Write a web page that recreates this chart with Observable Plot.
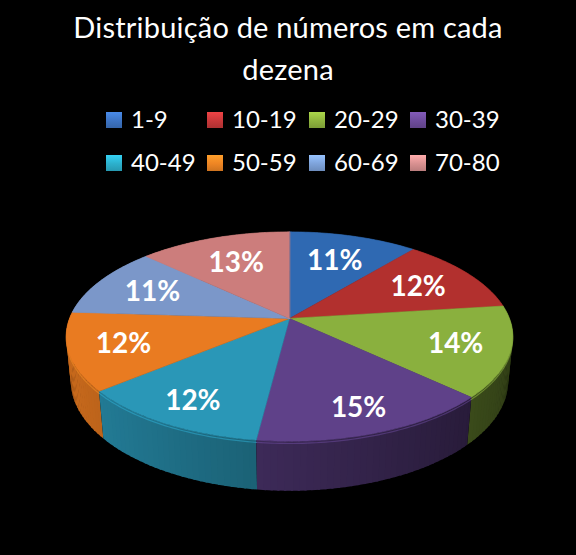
<!DOCTYPE html>
<html>
<head>
<meta charset="utf-8">
<script src="https://cdn.jsdelivr.net/npm/d3@7"></script>
<script src="https://cdn.jsdelivr.net/npm/@observablehq/plot@0.6"></script>
<style>
  html, body { margin: 0; padding: 0; background: #000; }
  #wrap { position: relative; width: 576px; height: 555px; background: #000; overflow: hidden; font-family: Lato, "Open Sans", sans-serif; }
  #title { position: absolute; left: 38px; width: 500px; top: 6px; text-align: center; color: #fff; font-size: 29px; line-height: 42px; letter-spacing: 0.2px; }
  .item { position: absolute; top: 0; color: #fff; font-size: 24px; line-height: 30px; white-space: nowrap; }
  .sw { position: absolute; width: 16px; height: 16px; top: 8px; left: 0; }
  .lab { position: absolute; left: 25px; top: 0; }
  #chart { position: absolute; left: 0; top: 185px; }
</style>
</head>
<body>
<div id="wrap">
  <div id="title">Distribuição de números em cada dezena</div>
  <div id="legend"></div>
  <div id="chart"></div>
</div>
<script>
// ---- data ----
const categories = ["1-9", "10-19", "20-29", "30-39", "40-49", "50-59", "60-69", "70-80"];
const percents = [11, 12, 14, 15, 12, 12, 11, 13];
const sliceColors = ["#2f69b2", "#b2302e", "#8ab03e", "#5f4189", "#2a97b7", "#e97b21", "#7b97c9", "#cc7d7c"];
const legendColors = ["#3d74c4", "#c8383a", "#8fb43e", "#6e4c9c", "#2cb0cc", "#ee8524", "#7ea3da", "#d89090"];
const percentLabels = percents.map(p => p + "%");

// ---- legend (HTML, above the SVG) ----
const legendEl = document.getElementById("legend");
const colX = [106, 207, 309, 410];
const rowTop = [104, 147];
categories.forEach((c, i) => {
  const r = Math.floor(i / 4), k = i % 4;
  const it = document.createElement("div");
  it.className = "item";
  it.style.left = colX[k] + "px";
  it.style.top = rowTop[r] + "px";
  const sw = document.createElement("div");
  sw.className = "sw";
  const base = d3.rgb(legendColors[i]);
  sw.style.background = `linear-gradient(180deg, ${base.brighter(0.5)} 0%, ${base} 55%, ${base.darker(0.4)} 100%)`;
  const lab = document.createElement("div");
  lab.className = "lab";
  lab.textContent = c;
  it.appendChild(sw); it.appendChild(lab);
  legendEl.appendChild(it);
});

// ---- 3D pie geometry (perspective projection) ----
const phi = 27.5 * Math.PI / 180;  // elevation
const D = 5.14;                    // camera distance (in radii)
const H = 0.228;                   // thickness (in radii)
function project(a, r, h) {
  const x = r * Math.cos(a), z = r * Math.sin(a);
  const v = z * Math.sin(phi) - h * Math.cos(phi);
  const d = z * Math.cos(phi) + h * Math.sin(phi);
  const s = D / (D - d);
  return [x * s, v * s];
}
const total = d3.sum(percents);
let cum = 0;
const slices = percents.map((p, i) => {
  const a0 = -Math.PI / 2 + cum / total * 2 * Math.PI;
  cum += p;
  const a1 = -Math.PI / 2 + cum / total * 2 * Math.PI;
  return {i, a0, a1, color: sliceColors[i]};
});

// top faces
const topPts = [];
slices.forEach(s => {
  const n = Math.ceil((s.a1 - s.a0) / (Math.PI / 180));
  const c = project(0, 0, 0);
  topPts.push({id: "t" + s.i, x: c[0], y: c[1], fill: s.color});
  for (let j = 0; j <= n; j++) {
    const a = s.a0 + (s.a1 - s.a0) * j / n;
    const p = project(a, 1, 0);
    topPts.push({id: "t" + s.i, x: p[0], y: p[1], fill: s.color});
  }
});

// side walls, small overlapping segments shaded by orientation
const shade = (a) => 0.35 + 0.26 * (1 - Math.cos(a));
const deg = Math.PI / 180;
const segs = [];
slices.forEach(s => {
  const n = Math.ceil((s.a1 - s.a0) / (1.5 * deg));
  for (let j = 0; j < n; j++) {
    const b0 = s.a0 + (s.a1 - s.a0) * j / n;
    const b1 = s.a0 + (s.a1 - s.a0) * (j + 1) / n;
    const m = (b0 + b1) / 2;
    const e0 = j === 0 ? b0 : b0 - 0.5 * deg;
    segs.push({key: s.i + "_" + j, b0: e0, b1, m, fill: d3.interpolateRgb("#000", s.color)(shade(m))});
  }
});
segs.sort((p, q) => Math.sin(p.m) - Math.sin(q.m));
const wallPts = [];
segs.forEach(g => {
  const pts = [project(g.b0, 1, 0), project(g.b1, 1, 0), project(g.b1, 1, -H), project(g.b0, 1, -H)];
  pts.forEach(p => wallPts.push({id: "w" + g.key, x: p[0], y: p[1], fill: g.fill}));
});

// subtle highlight along the front rim
const rimPts = [];
slices.forEach(s => {
  const lo = Math.max(s.a0, 0), hi = Math.min(s.a1, Math.PI);
  if (hi <= lo) return;
  const n = Math.ceil((hi - lo) / deg);
  for (let j = 0; j <= n; j++) {
    const a = lo + (hi - lo) * j / n;
    const p = project(a, 1, -0.01);
    rimPts.push({id: "r" + s.i, x: p[0], y: p[1], stroke: d3.rgb(s.color).brighter(0.6).formatHex()});
  }
});

// label positions along each slice's mid-angle
const labels = slices.map(s => {
  const m = (s.a0 + s.a1) / 2;
  const r = 0.74 + 0.07 * Math.sin(m);
  const p = project(m, r, 0);
  return {x: p[0], y: p[1], text: percentLabels[s.i]};
});

// ---- plot ----
const W = 576, Hpx = 370, S = 220, cx = 289, cy = 133;
const chart = Plot.plot({
  width: W,
  height: Hpx,
  margin: 0,
  style: {background: "#000", overflow: "visible"},
  x: {type: "linear", domain: [-cx / S, (W - cx) / S], range: [0, W], axis: null},
  y: {type: "linear", domain: [-cy / S, (Hpx - cy) / S], range: [0, Hpx], axis: null},
  color: {type: "identity"},
  marks: [
    Plot.line(wallPts, {x: "x", y: "y", z: "id", fill: "fill", stroke: "none", curve: "linear-closed"}),
    Plot.line(rimPts, {x: "x", y: "y", z: "id", stroke: "stroke", strokeWidth: 1.2, strokeOpacity: 0.45}),
    Plot.line(topPts, {x: "x", y: "y", z: "id", fill: "fill", stroke: "fill", strokeWidth: 0.6, curve: "linear-closed"}),
    Plot.text(labels, {x: "x", y: "y", text: "text", fill: "#fff", fontSize: 28, fontWeight: "bold", fontFamily: "Lato", dy: 1})
  ]
});
document.getElementById("chart").appendChild(chart);
</script>
</body>
</html>
